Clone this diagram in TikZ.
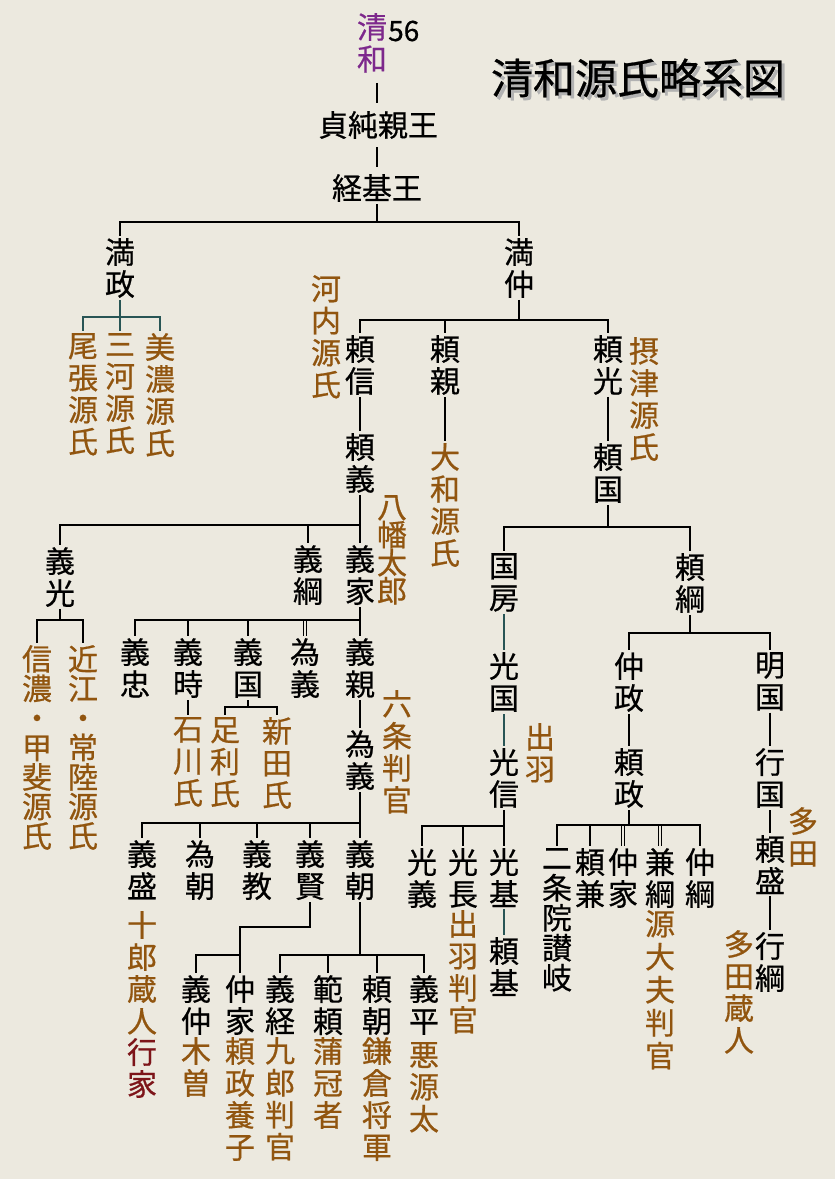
\documentclass[tikz,border=0pt]{standalone}
\usepackage{fontspec}
\newfontfamily\jp{Noto Sans CJK JP}[FakeBold=0.6]
\newcommand\jpv[1]{\jp\fontsize{30}{#1}\selectfont\lineskiplimit=-20pt}
\definecolor{paper}{RGB}{236,233,223}
\definecolor{clanbrown}{RGB}{145,85,15}
\definecolor{emperor}{RGB}{125,40,140}
\definecolor{yukired}{RGB}{125,20,25}
\definecolor{linkteal}{RGB}{40,85,85}

\begin{document}
\begin{tikzpicture}[x=1pt, y=-1pt,
  nm/.style={font=\jpv{32}, align=center, inner sep=2pt, anchor=north},
  al/.style={nm, text=clanbrown},
  link/.style={line width=1.8pt},
  adopt/.style={line width=1.1pt, double=paper, double distance=1.8pt}]
	\fill[paper] (0,0) rectangle (835,1179);
	% title
	\node[font=\jp\fontsize{42}{42}\selectfont, text=black!30] (titleshadow) at (641,81) {清和源氏略系図};
	\node[font=\jp\fontsize{42}{42}\selectfont] (title) at (638,78) {清和源氏略系図};
	% Seiwa -- Sadazumi -- Tsunemoto
	\node[nm, text=emperor] (seiwa) at (372,11) {清\\和};
	\node[font=\jp\fontsize{28}{28}\selectfont, anchor=west, inner sep=0pt] (gen56) at (388,31) {56};
	\node[nm, anchor=center] (sadazumi) at (378,125) {貞純親王};
	\node[nm, anchor=center] (tsunemoto) at (377,188) {経基王};
	\draw[link, shorten <=8pt, shorten >=6pt] (tsunemoto.north |- seiwa.south) -- (tsunemoto.north |- sadazumi.north);
	\draw[link, shorten <=6pt, shorten >=5pt] (tsunemoto.north |- sadazumi.south) -- (tsunemoto.north);
	\coordinate (b0) at (377,222);
	\node[nm] (mitsumasa) at (120,236) {満\\政};
	\node[nm] (mitsunaka) at (519,236) {満\\仲};
	\draw[link] (tsunemoto.south) -- (b0);
	\foreach \c in {mitsumasa,mitsunaka} \draw[link] (b0) -| (\c.north);
	% Mitsumasa
	\coordinate (b1) at (120,317);
	\node[al] (owari) at (83,331) {尾\\張\\源\\氏};
	\node[al] (mikawa) at (120,331) {三\\河\\源\\氏};
	\node[al] (mino) at (160,331) {美\\濃\\源\\氏};
	\draw[link, draw=linkteal] (mitsumasa.south) -- (b1);
	\foreach \c in {owari,mikawa,mino} \draw[link, draw=linkteal] (b1) -| (\c.north);
	% Mitsunaka
	\coordinate (b2) at (519,320);
	\node[nm] (yorinobu) at (360,333) {頼\\信};
	\node[nm] (yorichika) at (445,333) {頼\\親};
	\node[nm] (yorimitsu) at (608,333) {頼\\光};
	\node[al] (kawachi) at (326,273) {河\\内\\源\\氏};
	\node[al] (settsu) at (644,335) {摂\\津\\源\\氏};
	\draw[link] (mitsunaka.south) -- (b2);
	\foreach \c in {yorinobu,yorichika,yorimitsu} \draw[link] (b2) -| (\c.north);
	\node[nm] (yoriyoshi) at (360,431) {頼\\義};
	\node[al] (yamato) at (445,441) {大\\和\\源\\氏};
	\node[nm] (yorikuni) at (608,441) {頼\\国};
	\draw[link] (yorinobu) -- (yoriyoshi); \draw[link] (yorichika) -- (yamato); \draw[link] (yorimitsu) -- (yorikuni);
	% Yoriyoshi
	\coordinate (b3) at (360,525);
	\node[nm] (yoshimitsu) at (60,545) {義\\光};
	\node[nm] (yoshitsuna) at (308,543) {義\\綱};
	\node[nm] (yoshiie) at (360,543) {義\\家};
	\node[al, font=\jpv{28}] (hachiman) at (392,493) {八\\幡\\太\\郎};
	\draw[link] (yoriyoshi.south) -- (b3);
	\foreach \c in {yoshimitsu,yoshitsuna,yoshiie} \draw[link] (b3) -| (\c.north);
	% Yoshimitsu
	\coordinate (b4) at (60,620);
	\node[al, font=\jpv{29.5}] (shinano) at (37,643) {信\\濃\\・\\甲\\斐\\源\\氏};
	\node[al, font=\jpv{29.5}] (oumi) at (83,643) {近\\江\\・\\常\\陸\\源\\氏};
	\draw[link] (yoshimitsu.south) -- (b4);
	\foreach \c in {shinano,oumi} \draw[link] (b4) -| (\c.north);
	% Yoshiie
	\coordinate (b5) at (360,620);
	\node[nm] (yoshitada) at (135,636) {義\\忠};
	\node[nm] (yoshitoki) at (188,636) {義\\時};
	\node[nm] (yoshikuni) at (248,636) {義\\国};
	\node[nm] (tameyoshi) at (305,636) {為\\義};
	\node[nm] (yoshichika) at (360,636) {義\\親};
	\draw[adopt] (tameyoshi.north |- b5) -- (tameyoshi.north);
	\draw[link] (yoshiie.south) -- (b5);
	\foreach \c in {yoshitada,yoshitoki,yoshikuni,yoshichika} \draw[link] (b5) -| (\c.north);
	\node[al] (ishikawa) at (188,715) {石\\川\\氏};
	\draw[link] (yoshitoki) -- (ishikawa);
	\coordinate (b6) at (248,707);
	\node[al] (ashikaga) at (225,715) {足\\利\\氏};
	\node[al] (nitta) at (277,715) {新\\田\\氏};
	\draw[link] (yoshikuni.south) -- (b6);
	\foreach \c in {ashikaga,nitta} \draw[link] (b6) -| (\c.north);
	\node[nm] (tameyoshib) at (360,728) {為\\義};
	\node[al] (rokujo) at (397,688) {六\\条\\判\\官};
	\draw[link] (yoshichika) -- (tameyoshib);
	% Tameyoshi
	\coordinate (b7) at (360,823);
	\node[nm] (yoshimori) at (142,838) {義\\盛};
	\node[nm] (tametomo) at (200,838) {為\\朝};
	\node[nm] (yoshinori) at (257,838) {義\\教};
	\node[nm] (yoshikata) at (310,838) {義\\賢};
	\node[nm] (yoshitomo) at (360,838) {義\\朝};
	\draw[link] (tameyoshib.south) -- (b7);
	\foreach \c in {yoshimori,tametomo,yoshinori,yoshikata,yoshitomo} \draw[link] (b7) -| (\c.north);
	\node[al] (juro) at (142,909) {十\\郎\\蔵\\人};
	\node[nm, text=yukired] (yukiie) at (142,1036) {行\\家};
	% Yoshikata
	\coordinate (k1) at (240,927); \coordinate (b8) at (240,955);
	\node[nm] (yoshinaka) at (196,973) {義\\仲};
	\node[al] (kiso) at (196,1035) {木\\曽};
	\node[nm] (nakaie) at (240,973) {仲\\家};
	\node[al] (yoshiko) at (240,1035) {頼\\政\\養\\子};
	\draw[link] (yoshikata.south) |- (k1) -- (nakaie.north);
	\draw[link] (b8) -| (yoshinaka.north);
	% Yoshitomo
	\coordinate (b9) at (360,955);
	\node[nm] (yoshitsune) at (280,973) {義\\経};
	\node[nm] (noriyori) at (328,973) {範\\頼};
	\node[nm] (yoritomo) at (377,973) {頼\\朝};
	\node[nm] (yoshihira) at (424,973) {義\\平};
	\draw[link] (yoshitomo.south) -- (b9);
	\foreach \c in {yoshitsune,noriyori,yoritomo,yoshihira} \draw[link] (b9) -| (\c.north);
	\node[al] (kuro) at (280,1035) {九\\郎\\判\\官};
	\node[al] (kaba) at (328,1035) {蒲\\冠\\者};
	\node[al] (kamakura) at (377,1035) {鎌\\倉\\将\\軍};
	\node[al] (akugenta) at (424,1040) {悪\\源\\太};
	% Yorikuni
	\coordinate (b10) at (608,527);
	\node[nm] (kunifusa) at (504,551) {国\\房};
	\node[nm] (yoritsuna) at (690,551) {頼\\綱};
	\draw[link] (yorikuni.south) -- (b10);
	\foreach \c in {kunifusa,yoritsuna} \draw[link] (b10) -| (\c.north);
	\node[nm] (mitsukuni) at (504,650) {光\\国};
	\node[nm] (mitsunobu) at (504,746) {光\\信};
	\node[al] (dewa) at (540,721) {出\\羽};
	\draw[link, draw=linkteal] (kunifusa) -- (mitsukuni); \draw[link, draw=linkteal] (mitsukuni) -- (mitsunobu);
	% Mitsunobu
	\coordinate (b11) at (504,826);
	\node[nm] (mitsuyoshi) at (422,846) {光\\義};
	\node[nm] (mitsunaga) at (463,846) {光\\長};
	\node[nm] (mitsumoto) at (504,846) {光\\基};
	\draw[link] (mitsunobu.south) -- (b11);
	\foreach \c in {mitsuyoshi,mitsunaga,mitsumoto} \draw[link] (b11) -| (\c.north);
	\node[al] (dewahangan) at (463,908) {出\\羽\\判\\官};
	\node[nm] (yorimoto) at (504,935) {頼\\基};
	\draw[link, draw=linkteal] (mitsumoto) -- (yorimoto);
	% Yoritsuna
	\coordinate (b12) at (690,633);
	\node[nm] (nakamasa) at (629,650) {仲\\政};
	\node[nm] (akikuni) at (770,650) {明\\国};
	\draw[link] (yoritsuna.south) -- (b12);
	\foreach \c in {nakamasa,akikuni} \draw[link] (b12) -| (\c.north);
	\node[nm] (yorimasa) at (629,746) {頼\\政};
	\node[nm] (yukikuni) at (770,746) {行\\国};
	\draw[link] (nakamasa) -- (yorimasa); \draw[link] (akikuni) -- (yukikuni);
	% Yorimasa
	\coordinate (b13) at (629,825);
	\node[nm, font=\jpv{30}] (sanuki) at (557,846) {二\\条\\院\\讃\\岐};
	\node[nm] (yorikane) at (590,846) {頼\\兼};
	\node[nm] (nakaie2) at (623,846) {仲\\家};
	\node[nm] (kanetsuna) at (660,846) {兼\\綱};
	\node[nm] (nakatsuna) at (700,846) {仲\\綱};
	\node[al, font=\jpv{33}] (genzaifu) at (660,908) {源\\大\\夫\\判\\官};
	\foreach \c in {nakaie2,kanetsuna} \draw[adopt] (\c.north |- b13) -- (\c.north);
	\draw[link] (yorimasa.south) -- (b13);
	\foreach \c in {sanuki,yorikane,nakatsuna} \draw[link] (b13) -| (\c.north);
	% Yukikuni
	\node[nm] (yorimori) at (770,833) {頼\\盛};
	\node[nm] (yukitsuna) at (770,930) {行\\綱};
	\draw[link] (yukikuni) -- (yorimori); \draw[link] (yorimori) -- (yukitsuna);
	\node[al] (tada) at (803,805) {多\\田};
	\node[al] (tadakura) at (739,928) {多\\田\\蔵\\人};
\end{tikzpicture}
\end{document}
